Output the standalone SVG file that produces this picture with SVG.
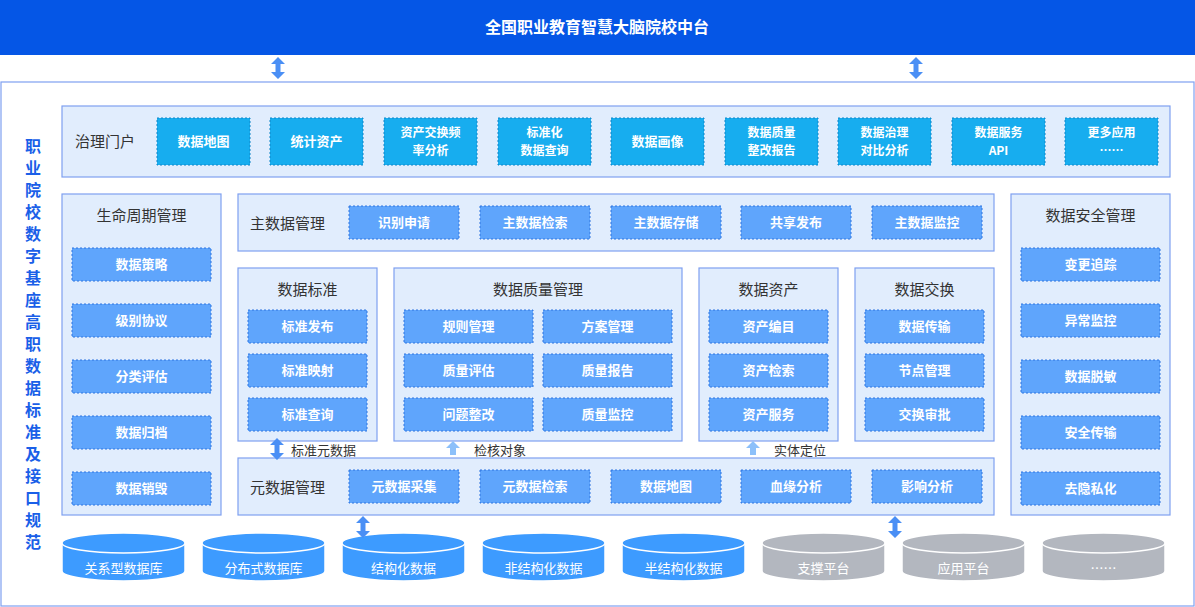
<svg xmlns="http://www.w3.org/2000/svg" width="1195" height="607" viewBox="0 0 1195 607">
<style>
text{font-family:"Noto Sans CJK SC","Noto Sans",sans-serif}
.p{fill:#e1edfd;stroke:#7fa0f0;stroke-width:1.2}
.c{fill:#17adef;stroke:#0e86c8;stroke-width:1;stroke-dasharray:2 2}
.b{fill:#5fa5fc;stroke:#2f74e0;stroke-width:1;stroke-dasharray:2 2}
.bt{fill:#fff;font-size:13px;font-weight:bold;text-anchor:middle}
.b2{fill:#fff;font-size:12px;font-weight:bold;text-anchor:middle}
.pt{fill:#333;font-size:15px;text-anchor:middle}
.lt{fill:#333;font-size:13px}
.cy{fill:#3d9bff;stroke:#fff;stroke-width:1.5}
.cg{fill:#b3b7bf;stroke:#fff;stroke-width:1.5}
.ct{fill:#fff;font-size:13px;text-anchor:middle}
.ar{fill:#4a8ff5}
</style>
<defs>
<path id="dbl" d="M0,-11 L7,-4 L2.5,-4 L2.5,4 L7,4 L0,11 L-7,4 L-2.5,4 L-2.5,-4 L-7,-4 Z"/>
<path id="up" d="M0,-7 L7,0 L3,0 L3,7 L-3,7 L-3,0 L-7,0 Z"/>
</defs>
<rect width="1195" height="607" fill="#fff"/>
<g id="top"><rect x="0" y="0" width="1195" height="55" fill="#0556e6"/>
<text x="597" y="33" fill="#fff" font-size="16" font-weight="bold" text-anchor="middle">全国职业教育智慧大脑院校中台</text></g>
<rect x="1" y="82" width="1193" height="524" fill="#fff" stroke="#7fa0f0" stroke-width="1.2"/>
<g id="side"><text fill="#1a5fe8" font-size="16" font-weight="bold" text-anchor="middle">
<tspan x="33" y="152">职</tspan><tspan x="33" y="174">业</tspan><tspan x="33" y="196">院</tspan><tspan x="33" y="218">校</tspan><tspan x="33" y="240">数</tspan><tspan x="33" y="262">字</tspan><tspan x="33" y="284">基</tspan><tspan x="33" y="306">座</tspan><tspan x="33" y="328">高</tspan><tspan x="33" y="350">职</tspan><tspan x="33" y="372">数</tspan><tspan x="33" y="394">据</tspan><tspan x="33" y="416">标</tspan><tspan x="33" y="438">准</tspan><tspan x="33" y="460">及</tspan><tspan x="33" y="482">接</tspan><tspan x="33" y="504">口</tspan><tspan x="33" y="526">规</tspan><tspan x="33" y="548">范</tspan></text></g>
<g id="portal"><rect class="p" x="62" y="106" width="1108" height="71"/>
<text x="75" y="147" fill="#333" font-size="15">治理门户</text>
<rect class="c" x="157" y="118" width="93" height="47"/><text class="bt" x="203.5" y="146">数据地图</text>
<rect class="c" x="270" y="118" width="93" height="47"/><text class="bt" x="316.5" y="146">统计资产</text>
<rect class="c" x="384" y="118" width="93" height="47"/><text class="b2" x="430.5" y="137">资产交换频</text><text class="b2" x="430.5" y="155">率分析</text>
<rect class="c" x="498" y="118" width="93" height="47"/><text class="b2" x="544.5" y="137">标准化</text><text class="b2" x="544.5" y="155">数据查询</text>
<rect class="c" x="611" y="118" width="93" height="47"/><text class="bt" x="657.5" y="146">数据画像</text>
<rect class="c" x="725" y="118" width="93" height="47"/><text class="b2" x="771.5" y="137">数据质量</text><text class="b2" x="771.5" y="155">整改报告</text>
<rect class="c" x="838" y="118" width="93" height="47"/><text class="b2" x="884.5" y="137">数据治理</text><text class="b2" x="884.5" y="155">对比分析</text>
<rect class="c" x="952" y="118" width="93" height="47"/><text class="b2" x="998.5" y="137">数据服务</text><text class="b2" x="998.5" y="155">API</text>
<rect class="c" x="1065" y="118" width="93" height="47"/><text class="b2" x="1111.5" y="137">更多应用</text><text class="b2" x="1111.5" y="155">……</text></g>
<g id="lifecycle"><rect class="p" x="62" y="194" width="159" height="321"/>
<text class="pt" x="141.5" y="221">生命周期管理</text>
<rect class="b" x="72" y="248" width="139" height="33"/><text class="bt" x="141.5" y="269">数据策略</text>
<rect class="b" x="72" y="304" width="139" height="33"/><text class="bt" x="141.5" y="325">级别协议</text>
<rect class="b" x="72" y="360" width="139" height="33"/><text class="bt" x="141.5" y="381">分类评估</text>
<rect class="b" x="72" y="416" width="139" height="33"/><text class="bt" x="141.5" y="437">数据归档</text>
<rect class="b" x="72" y="472" width="139" height="33"/><text class="bt" x="141.5" y="493">数据销毁</text></g>
<g id="security"><rect class="p" x="1011" y="194" width="159" height="321"/>
<text class="pt" x="1090.5" y="221">数据安全管理</text>
<rect class="b" x="1021" y="248" width="139" height="33"/><text class="bt" x="1090.5" y="269">变更追踪</text>
<rect class="b" x="1021" y="304" width="139" height="33"/><text class="bt" x="1090.5" y="325">异常监控</text>
<rect class="b" x="1021" y="360" width="139" height="33"/><text class="bt" x="1090.5" y="381">数据脱敏</text>
<rect class="b" x="1021" y="416" width="139" height="33"/><text class="bt" x="1090.5" y="437">安全传输</text>
<rect class="b" x="1021" y="472" width="139" height="33"/><text class="bt" x="1090.5" y="493">去隐私化</text></g>
<g id="master"><rect class="p" x="238" y="194" width="756" height="57"/>
<text x="250" y="229" fill="#333" font-size="15">主数据管理</text>
<rect class="b" x="349" y="206" width="110" height="33"/><text class="bt" x="404" y="227">识别申请</text>
<rect class="b" x="480" y="206" width="110" height="33"/><text class="bt" x="535" y="227">主数据检索</text>
<rect class="b" x="611" y="206" width="110" height="33"/><text class="bt" x="666" y="227">主数据存储</text>
<rect class="b" x="741" y="206" width="110" height="33"/><text class="bt" x="796" y="227">共享发布</text>
<rect class="b" x="872" y="206" width="110" height="33"/><text class="bt" x="927" y="227">主数据监控</text></g>
<g id="std"><rect class="p" x="238" y="268" width="139" height="173"/>
<text class="pt" x="307.5" y="295">数据标准</text>
<rect class="b" x="248" y="310" width="119" height="33"/><text class="bt" x="307.5" y="331">标准发布</text>
<rect class="b" x="248" y="354" width="119" height="33"/><text class="bt" x="307.5" y="375">标准映射</text>
<rect class="b" x="248" y="398" width="119" height="33"/><text class="bt" x="307.5" y="419">标准查询</text></g>
<g id="quality"><rect class="p" x="394" y="268" width="288" height="173"/>
<text class="pt" x="538" y="295">数据质量管理</text>
<rect class="b" x="404" y="310" width="129" height="33"/><text class="bt" x="468.5" y="331">规则管理</text>
<rect class="b" x="543" y="310" width="129" height="33"/><text class="bt" x="607.5" y="331">方案管理</text>
<rect class="b" x="404" y="354" width="129" height="33"/><text class="bt" x="468.5" y="375">质量评估</text>
<rect class="b" x="543" y="354" width="129" height="33"/><text class="bt" x="607.5" y="375">质量报告</text>
<rect class="b" x="404" y="398" width="129" height="33"/><text class="bt" x="468.5" y="419">问题整改</text>
<rect class="b" x="543" y="398" width="129" height="33"/><text class="bt" x="607.5" y="419">质量监控</text></g>
<g id="asset"><rect class="p" x="699" y="268" width="139" height="173"/>
<text class="pt" x="768.5" y="295">数据资产</text>
<rect class="b" x="709" y="310" width="119" height="33"/><text class="bt" x="768.5" y="331">资产编目</text>
<rect class="b" x="709" y="354" width="119" height="33"/><text class="bt" x="768.5" y="375">资产检索</text>
<rect class="b" x="709" y="398" width="119" height="33"/><text class="bt" x="768.5" y="419">资产服务</text></g>
<g id="exchange"><rect class="p" x="855" y="268" width="139" height="173"/>
<text class="pt" x="924.5" y="295">数据交换</text>
<rect class="b" x="865" y="310" width="119" height="33"/><text class="bt" x="924.5" y="331">数据传输</text>
<rect class="b" x="865" y="354" width="119" height="33"/><text class="bt" x="924.5" y="375">节点管理</text>
<rect class="b" x="865" y="398" width="119" height="33"/><text class="bt" x="924.5" y="419">交换审批</text></g>
<g id="meta"><rect class="p" x="238" y="458" width="756" height="57"/>
<text x="250" y="493" fill="#333" font-size="15">元数据管理</text>
<rect class="b" x="349" y="470" width="110" height="33"/><text class="bt" x="404" y="491">元数据采集</text>
<rect class="b" x="480" y="470" width="110" height="33"/><text class="bt" x="535" y="491">元数据检索</text>
<rect class="b" x="611" y="470" width="110" height="33"/><text class="bt" x="666" y="491">数据地图</text>
<rect class="b" x="741" y="470" width="110" height="33"/><text class="bt" x="796" y="491">血缘分析</text>
<rect class="b" x="872" y="470" width="110" height="33"/><text class="bt" x="927" y="491">影响分析</text></g>
<g id="dbs">
<g><path class="cy" d="M62,543 L62,571 A61.5,10 0 0 0 185,571 L185,543"/><ellipse class="cy" cx="123.5" cy="543" rx="61.5" ry="10"/><text class="ct" x="123.5" y="573">关系型数据库</text></g>
<g><path class="cy" d="M202,543 L202,571 A61.5,10 0 0 0 325,571 L325,543"/><ellipse class="cy" cx="263.5" cy="543" rx="61.5" ry="10"/><text class="ct" x="263.5" y="573">分布式数据库</text></g>
<g><path class="cy" d="M342,543 L342,571 A61.5,10 0 0 0 465,571 L465,543"/><ellipse class="cy" cx="403.5" cy="543" rx="61.5" ry="10"/><text class="ct" x="403.5" y="573">结构化数据</text></g>
<g><path class="cy" d="M482,543 L482,571 A61.5,10 0 0 0 605,571 L605,543"/><ellipse class="cy" cx="543.5" cy="543" rx="61.5" ry="10"/><text class="ct" x="543.5" y="573">非结构化数据</text></g>
<g><path class="cy" d="M622,543 L622,571 A61.5,10 0 0 0 745,571 L745,543"/><ellipse class="cy" cx="683.5" cy="543" rx="61.5" ry="10"/><text class="ct" x="683.5" y="573">半结构化数据</text></g>
<g><path class="cg" d="M762,543 L762,571 A61.5,10 0 0 0 885,571 L885,543"/><ellipse class="cg" cx="823.5" cy="543" rx="61.5" ry="10"/><text class="ct" x="823.5" y="573">支撑平台</text></g>
<g><path class="cg" d="M902,543 L902,571 A61.5,10 0 0 0 1025,571 L1025,543"/><ellipse class="cg" cx="963.5" cy="543" rx="61.5" ry="10"/><text class="ct" x="963.5" y="573">应用平台</text></g>
<g><path class="cg" d="M1042,543 L1042,571 A61.5,10 0 0 0 1165,571 L1165,543"/><ellipse class="cg" cx="1103.5" cy="543" rx="61.5" ry="10"/><text class="ct" x="1103.5" y="573">……</text></g>
</g>
<g id="connectors">
<use href="#dbl" class="ar" x="278" y="68"/>
<use href="#dbl" class="ar" x="916" y="68"/>
<use href="#dbl" class="ar" x="277" y="449"/>
<use href="#dbl" class="ar" x="363" y="527"/>
<use href="#dbl" class="ar" x="895" y="527"/>
<use href="#up" fill="#8cc0fa" x="453" y="448"/>
<use href="#up" fill="#8cc0fa" x="753" y="448"/>
<text class="lt" x="291" y="455">标准元数据</text>
<text class="lt" x="474" y="455">检核对象</text>
<text class="lt" x="774" y="455">实体定位</text>
</g>
</svg>
